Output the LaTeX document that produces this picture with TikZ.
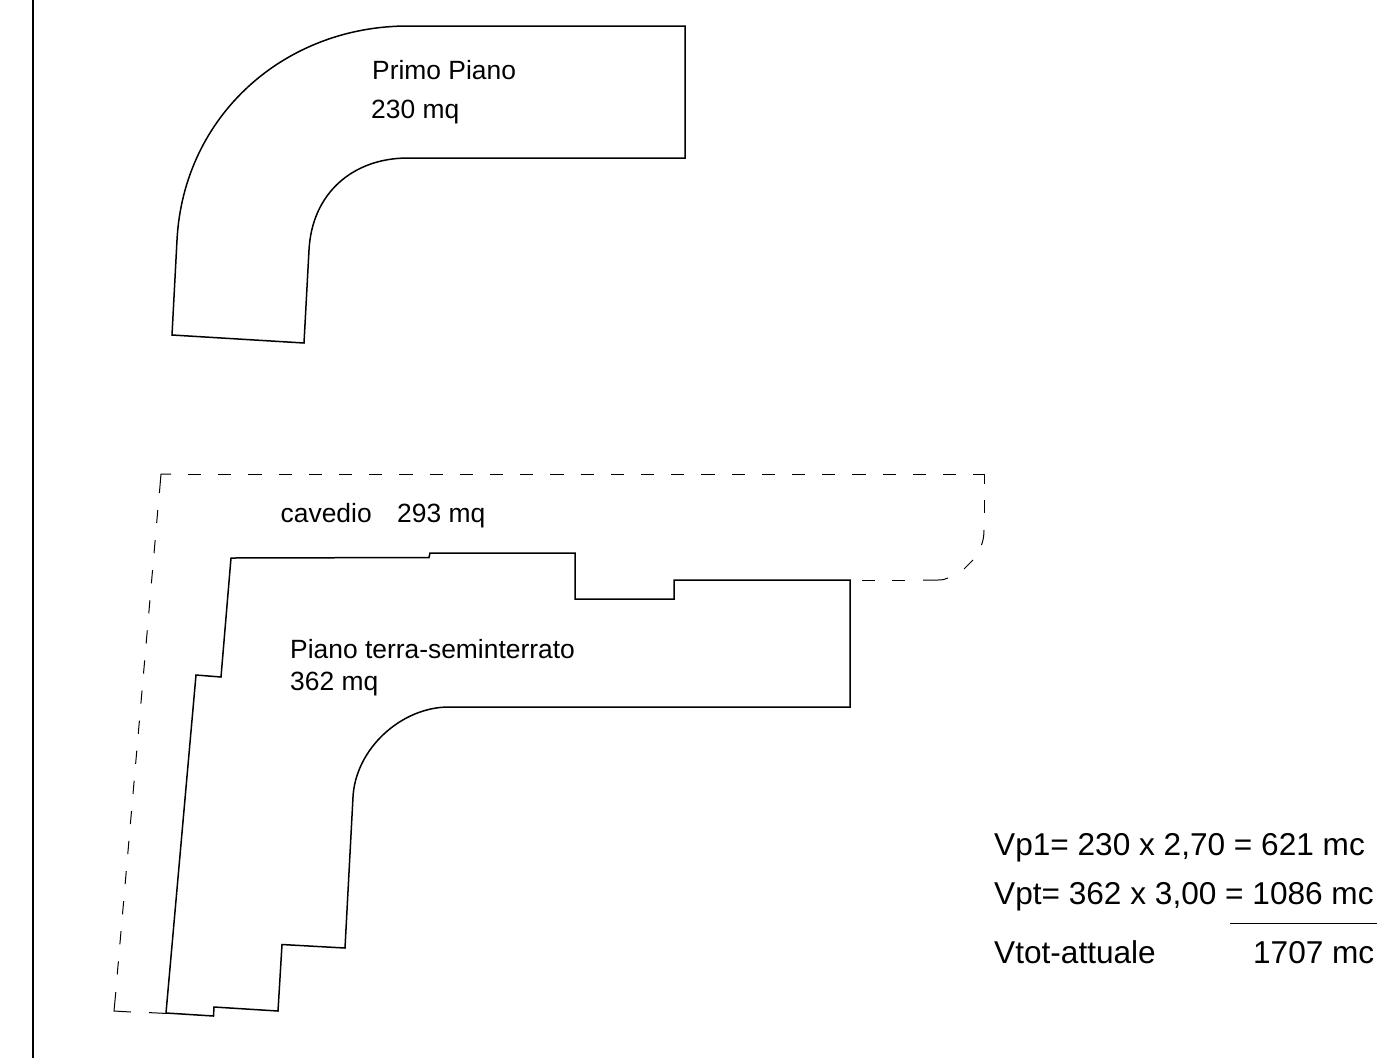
\documentclass[tikz,border=0pt]{standalone}
\usepackage{fontspec}
\setmainfont{Liberation Sans}
\tikzset{
  wall/.style={draw=black,line width=1.5pt,line join=miter},
  dashline/.style={draw=black,line width=1pt},
  dashrun/.style={dashline,dash pattern=on 13.2pt off 17pt},
  small/.style={anchor=base west,inner sep=0pt,font=\fontsize{26.4}{30}\selectfont},
  big/.style={anchor=base west,inner sep=0pt,font=\fontsize{31.6}{36}\selectfont},
}
\begin{document}
\begin{tikzpicture}[x=1pt,y=-1pt]
\useasboundingbox (0,0) rectangle (1391,1058);
% left margin line
\draw[black,line width=2pt] (33,0) -- (33,1058);
% first floor
\draw[wall] (408,26) -- (685,26) -- (685,158) -- (408,158)
  .. controls (353,158) and (312,193) .. (309,250)
  -- (304,343) -- (172,335) -- (177,240)
  .. controls (183.5,116) and (284,26) .. (408,26) -- cycle;
% ground floor
\draw[wall] (231,558) -- (429,557.5) -- (430,553) -- (575,553) -- (575,599) -- (674,599)
  -- (674,580) -- (850,580) -- (850,707) -- (449,707)
  .. controls (401,707) and (355.5,749) .. (353,797)
  -- (345,948) -- (282,944.5) -- (278,1011) -- (214,1007) -- (213.5,1016) -- (166,1013)
  -- (196,675) -- (221,677) -- cycle;
% cavedio dashed outline
\draw[dashline] (171,474) -- (161,474) -- (159.4,493);
\draw[dashrun] (188,474) -- (974,474);
\draw[dashline] (974,474) -- (984,474) -- (984,484);
\draw[dashrun] (984,500) -- (984,513);
\draw[dashline] (984,530) .. controls (984,536) and (983,541) .. (981.5,545);
\draw[dashline] (973,560) -- (964,569);
\draw[dashline] (948,578) .. controls (945,579.5) and (942,580) .. (938,580) -- (923,580);
\draw[dashrun] (905,580) -- (892,580);
\draw[dashrun] (875,580) -- (862,580);
\draw[dashrun] (157.8,510) -- (117.2,975);
\draw[dashline] (115.8,992) -- (114,1011) -- (131,1012);
\draw[dashline] (149,1012.6) -- (166,1013.4);
% labels
\node[small] (primo) at (372,79) {Primo Piano};
\node[small] (primomq) at (371,118) {230 mq};
\node[small] (cav) at (280.5,522) {cavedio};
\node[small] (cavmq) at (397,522) {293 mq};
\node[small] (terra) at (290,658) {Piano terra-seminterrato};
\node[small] (terramq) at (290,690) {362 mq};
\node[big] (vp1) at (994,855) {Vp1= 230 x 2,70 = 621 mc};
\node[big] (vpt) at (994,904) {Vpt= 362 x 3,00 = 1086 mc};
\node[big] (vtot) at (994,963) {Vtot-attuale};
\node[big,anchor=base east] (tot) at (1374.5,963) {1707 mc};
\draw[black,line width=1.4pt] (1230,923.5) -- (1377,923.5);
\end{tikzpicture}
\end{document}
